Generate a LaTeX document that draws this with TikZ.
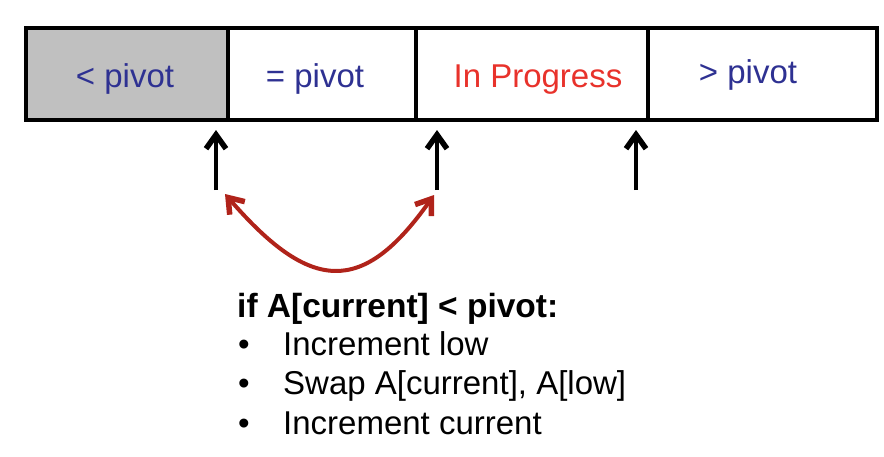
\documentclass[tikz,border=0pt]{standalone}
\usepackage{fontspec}
\setmainfont{Liberation Sans}
\usetikzlibrary{arrows.meta}
\definecolor{pblue}{HTML}{2E3192}
\definecolor{pred}{HTML}{E8322B}
\definecolor{cred}{HTML}{B0231A}
\definecolor{cgray}{HTML}{C0C0C0}
\tikzset{
  cell/.style={draw=black, line width=4pt, inner sep=0pt, outer sep=0pt},
  lbl/.style={anchor=base, font=\fontsize{33}{38}\selectfont, inner sep=0pt},
  barb/.tip={Straight Barb[length=14pt,width=20pt,line width=5.5pt]},
  ptr/.style={line width=4pt, -barb},
  swap/.style={line width=4pt, draw=cred, barb-barb},
  txt/.style={anchor=base west, font=\fontsize{33}{38}\selectfont, inner sep=0pt},
}
\begin{document}
\begin{tikzpicture}[x=1pt,y=-1pt]
\useasboundingbox (0,0) rectangle (884,456);
% cells
\path[fill=cgray] (26,28) rectangle (228,120);
\draw[cell] (26,28) rectangle (877,120);
\draw[line width=3.5pt] (228,28) -- (228,120);
\draw[line width=3.5pt] (416,28) -- (416,120);
\draw[line width=3.5pt] (648,28) -- (648,120);
\node[lbl, text=pblue] (lt) at (125,87) {< pivot};
\node[lbl, text=pblue] (eq) at (315,87) {= pivot};
\node[lbl, text=pred] (ip) at (538,87) {In Progress};
\node[lbl, text=pblue] (gt) at (748,83) {> pivot};
% pointers
\coordinate (a1s) at (216,190); \coordinate (a1e) at (216,130);
\coordinate (a2s) at (437,190); \coordinate (a2e) at (437,130);
\coordinate (a3s) at (636,190); \coordinate (a3e) at (636,130);
\draw[ptr] (a1s) -- (a1e);
\draw[ptr] (a2s) -- (a2e);
\draw[ptr] (a3s) -- (a3e);
% swap arc
\coordinate (sl) at (225,194);
\coordinate (sr) at (434,195);
\draw[swap] (sl) .. controls (310,292) and (362,297) .. (sr);
% text
\node[txt, font=\fontsize{33.5}{38}\selectfont\bfseries] (cond) at (237,317) {if A[current] < pivot:};
\node[txt] (b1) at (238,355) {•};
\node[txt] (t1) at (283,355) {Increment low};
\node[txt] (b2) at (238,394) {•};
\node[txt] (t2) at (283,394) {Swap A[current], A[low]};
\node[txt] (b3) at (238,434) {•};
\node[txt] (t3) at (283,434) {Increment current};
\end{tikzpicture}
\end{document}
